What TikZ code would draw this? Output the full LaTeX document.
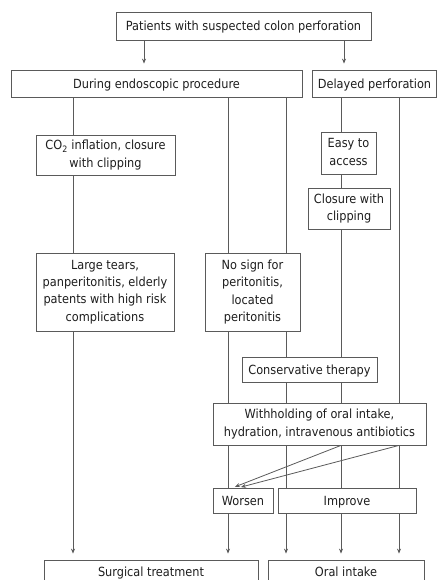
\documentclass[tikz,border=0pt]{standalone}
\usepackage{fontspec}
\setmainfont{DejaVu Sans Condensed}
\usetikzlibrary{arrows.meta,backgrounds,calc}
\definecolor{ln}{HTML}{5A5A5A}
\definecolor{tx}{HTML}{1E1E1E}
\newcommand{\mystrut}{\rule[-2pt]{0pt}{14pt}}
\tikzset{
  x=1pt,y=-1pt,
  box/.style={draw=ln,line width=0.8pt,fill=white,text=tx,align=center,inner sep=1pt,
    font=\fontsize{12.6}{17.3}\selectfont,
    execute at begin node=\mystrut, execute at end node=\mystrut},
  conn/.style={draw=ln,line width=0.8pt},
  arr/.style={conn,-{Stealth[length=5pt,width=4pt]},shorten >=6pt},
}
\begin{document}
\begin{tikzpicture}
\useasboundingbox (0,0) rectangle (437,580);
\clip (0,0) rectangle (437,580);
% column positions
\coordinate (c0) at (73,0);
\coordinate (c1) at (228,0);
\coordinate (c2) at (286,0);
\coordinate (c3) at (341,0);
\coordinate (c4) at (399,0);
\coordinate (t1) at (144,0);
\coordinate (t2) at (344,0);

\node[box,minimum width=255,minimum height=28] (top) at (243.5,26) {Patients with suspected colon perforation};
\node[box,minimum width=291,minimum height=27] (during) at (156.5,83.5) {During endoscopic procedure};
\node[box,minimum width=124,minimum height=27] (delayed) at (374.5,83.5) {Delayed perforation};
\node[box,minimum width=139,minimum height=40] (co2) at (105.5,155) {CO\textsubscript{2} inflation, closure\\with clipping};
\node[box,minimum width=55,minimum height=42] (easy) at (348.5,153) {Easy to\\access};
\node[box,minimum width=82,minimum height=41] (clos) at (349,208.5) {Closure with\\clipping};
\node[box,minimum width=138,minimum height=78] (large) at (105,292) {Large tears,\\panperitonitis, elderly\\patents with high risk\\complications};
\node[box,minimum width=95,minimum height=78] (nosign) at (252.5,292) {No sign for\\peritonitis,\\located\\peritonitis};
\node[box,minimum width=135,minimum height=25] (cons) at (309.5,369.5) {Conservative therapy};
\node[box,minimum width=213,minimum height=42] (withh) at (319.5,424) {Withholding of oral intake,\\hydration, intravenous antibiotics};
\node[box,minimum width=60,minimum height=25] (worsen) at (243,500.5) {Worsen};
\node[box,minimum width=138,minimum height=25] (improve) at (347,500.5) {Improve};
\node[box,minimum width=214,minimum height=23] (surg) at (151,571.5) {Surgical treatment};
\node[box,minimum width=156,minimum height=23] (oral) at (346,571.5) {Oral intake};

\begin{pgfonlayer}{background}
\draw[arr] (top.south -| t1) -- (during.north -| t1);
\draw[arr] (top.south -| t2) -- (delayed.north -| t2);
\draw[conn] (during.south -| c0) -- (co2.north -| c0);
\draw[conn] (co2.south -| c0) -- (large.north -| c0);
\draw[arr] (large.south -| c0) -- (surg.north -| c0);
\draw[arr] (during.south -| c1) -- (surg.north -| c1);
\draw[arr] (during.south -| c2) -- (oral.north -| c2);
\draw[arr] (delayed.south -| c3) -- (oral.north -| c3);
\draw[arr] (delayed.south -| c4) -- (oral.north -| c4);
\end{pgfonlayer}
\draw[conn,-{Stealth[length=5pt,width=4pt]},shorten >=2pt] (withh.south -| c3) -- ([xshift=-10pt]worsen.north);
\draw[conn,-{Stealth[length=5pt,width=4pt]},shorten >=2pt] (withh.south -| c4) -- ([xshift=-4pt]worsen.north);
\end{tikzpicture}
\end{document}
